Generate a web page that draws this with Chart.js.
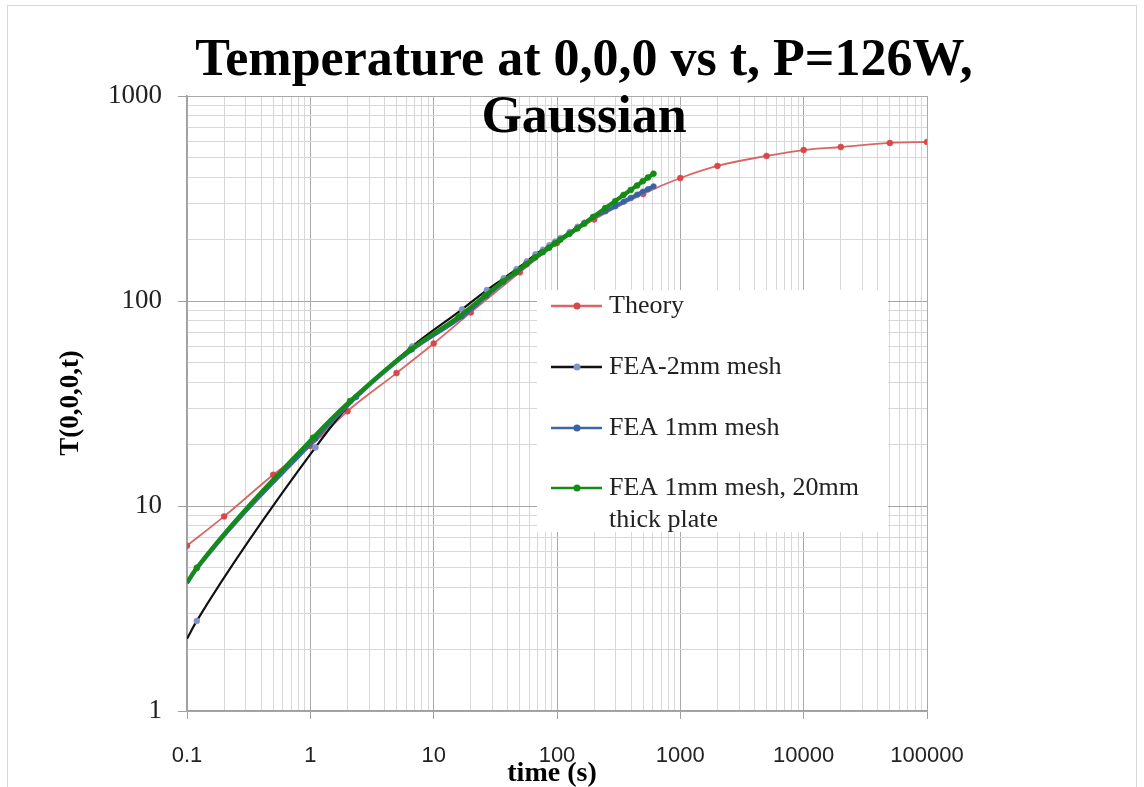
<!DOCTYPE html>
<html>
<head>
<meta charset="utf-8">
<script src="https://cdn.jsdelivr.net/npm/chart.js@4/dist/chart.umd.min.js"></script>
<style>
  body { margin: 0; background: #fff; }
  canvas { display: block; }
</style>
</head>
<body>
<canvas id="tempCanvas" width="1144" height="787"></canvas>
<script>
// values (log-log)
const timeTheory = [0.1, 0.2, 0.5, 1, 2, 5, 10, 20, 50, 100, 200, 500, 1000, 2000, 5000, 10000, 20000, 50000, 100000];
const tempTheory = [6.4, 8.9, 14.2, 19.6, 29, 44.5, 62, 88, 138, 192, 250, 333, 398, 456, 510, 545, 564, 590, 597];

const timeFea = [0.1, 0.12, 1.1, 2.35, 6.7, 17, 27, 37, 47, 57, 67, 77, 87, 97, 107, 127, 147, 167, 197, 247, 297, 347, 397, 447, 497, 547, 607];
const tempFea2mm = [2.25, 2.75, 19.3, 34, 60, 91, 113, 129, 143, 156, 169, 178, 187, 195, 203, 217, 230, 241, 256, 274, 290, 305, 318, 330, 341, 351, 362];
const tempFea1mm = [4.2, 4.95, 21.3, 34, 58, 84, 106, 124, 138, 151, 163, 173, 182, 191, 199, 213, 227, 240, 256, 274, 290, 305, 318, 330, 341, 351, 362];

const timeThick = [0.1, 0.12, 1.05, 2.1, 6.5, 16, 26, 36, 46, 56, 66, 76, 86, 96, 106, 126, 146, 166, 196, 246, 296, 346, 396, 446, 496, 546, 606];
const tempThick = [4.25, 5.0, 21.5, 32.5, 58, 84, 106, 124, 138, 151, 163, 173, 182, 191, 199, 213, 226, 238, 257, 284, 307, 329, 348, 366, 384, 400, 418];

const seriesNames = ["Theory", "FEA-2mm mesh", "FEA 1mm mesh", "FEA 1mm mesh, 20mm thick plate"];

const toPoints = (xs, ys) => xs.map((x, i) => ({ x: x, y: ys[i] }));

const isMajor = (v) => {
  const l = Math.log10(v);
  return Math.abs(l - Math.round(l)) < 1e-6;
};

// 1..9 per decade, like the spreadsheet's minor grid
const decadeTicks = (scale) => {
  const out = [];
  const e0 = Math.round(Math.log10(scale.min));
  const e1 = Math.round(Math.log10(scale.max));
  for (let e = e0; e <= e1; e++) {
    for (let s = 1; s < 10; s++) {
      const v = +(s * Math.pow(10, e)).toPrecision(6);
      if (v >= scale.min && v <= scale.max) out.push({ value: v });
    }
  }
  scale.ticks = out;
};

// first FEA point sits on the axis with no marker
const skipFirst = (r) => (ctx) => (ctx.dataIndex === 0 ? 0 : r);

const serif = "'Liberation Serif', 'DejaVu Serif', serif";

const legendItems = [
  { label: ["Theory"], line: "#d96666", dot: "#d94848", y: 306 },
  { label: ["FEA-2mm mesh"], line: "#111111", dot: "#8094c8", y: 367 },
  { label: ["FEA 1mm mesh"], line: "#3c67a6", dot: "#3a62a0", y: 428 },
  { label: ["FEA 1mm mesh, 20mm", "thick plate"], line: "#148c14", dot: "#148c14", y: 488 },
];

const decorPlugin = {
  id: "decor",
  afterDraw(chart) {
    const ctx = chart.ctx;
    ctx.save();

    // outer frame
    ctx.strokeStyle = "#d6d6d6";
    ctx.lineWidth = 1;
    ctx.strokeRect(7.5, 5.5, 1129, 800);

    // title
    ctx.fillStyle = "#000";
    ctx.textAlign = "center";
    ctx.textBaseline = "alphabetic";
    ctx.font = "bold 52px " + serif;
    ctx.fillText("Temperature at 0,0,0 vs t, P=126W,", 584, 75);
    ctx.fillText("Gaussian", 584, 132);

    // axis titles
    ctx.font = "bold 28px " + serif;
    ctx.fillText("time (s)", 552, 781);
    ctx.save();
    ctx.translate(78, 403);
    ctx.rotate(-Math.PI / 2);
    ctx.font = "bold 27px " + serif;
    ctx.fillText("T(0,0,0,t)", 0, 0);
    ctx.restore();

    // legend box
    ctx.fillStyle = "#fff";
    ctx.fillRect(537, 290, 351, 242);
    ctx.font = "26px " + serif;
    ctx.textAlign = "left";
    ctx.textBaseline = "middle";
    legendItems.forEach((it) => {
      ctx.strokeStyle = it.line;
      ctx.lineWidth = 2.5;
      ctx.beginPath();
      ctx.moveTo(551, it.y);
      ctx.lineTo(602, it.y);
      ctx.stroke();
      ctx.fillStyle = it.dot;
      ctx.beginPath();
      ctx.arc(577, it.y, 3.5, 0, Math.PI * 2);
      ctx.fill();
      ctx.fillStyle = "#222";
      it.label.forEach((t, k) => ctx.fillText(t, 609, it.y + k * 32));
    });

    ctx.restore();
  },
};

const gridColor = (c) => (c.tick && isMajor(c.tick.value) ? "#a9a9a9" : "#d8d8d8");
const tickMarkColor = (c) => (c.tick && isMajor(c.tick.value) ? "#a0a0a0" : "rgba(0,0,0,0)");

const tempChart = new Chart(document.getElementById("tempCanvas"), {
  type: "line",
  data: {
    datasets: [
      {
        label: seriesNames[3],
        data: toPoints(timeThick, tempThick),
        borderColor: "#148c14",
        backgroundColor: "#148c14",
        pointBackgroundColor: "#148c14",
        pointBorderColor: "#148c14",
        borderWidth: 4,
        pointRadius: skipFirst(3),
        pointBorderWidth: 0.5,
        cubicInterpolationMode: "monotone",
        order: 0,
      },
      {
        label: seriesNames[2],
        data: toPoints(timeFea, tempFea1mm),
        borderColor: "#3c67a6",
        backgroundColor: "#3a62a0",
        pointBackgroundColor: "#3a62a0",
        pointBorderColor: "#3a62a0",
        borderWidth: 4,
        pointRadius: skipFirst(2.5),
        pointBorderWidth: 0.5,
        cubicInterpolationMode: "monotone",
        order: 1,
      },
      {
        label: seriesNames[1],
        data: toPoints(timeFea, tempFea2mm),
        borderColor: "#111111",
        backgroundColor: "#8094c8",
        pointBackgroundColor: "#8094c8",
        pointBorderColor: "#8094c8",
        borderWidth: 2.2,
        pointRadius: skipFirst(3),
        pointBorderWidth: 0.5,
        cubicInterpolationMode: "monotone",
        order: 2,
      },
      {
        label: seriesNames[0],
        data: toPoints(timeTheory, tempTheory),
        borderColor: "#d96666",
        backgroundColor: "#d94848",
        pointBackgroundColor: "#d94848",
        pointBorderColor: "#d94848",
        borderWidth: 1.8,
        pointRadius: 3,
        pointBorderWidth: 0.5,
        cubicInterpolationMode: "monotone",
        order: 3,
      },
    ],
  },
  options: {
    responsive: false,
    animation: false,
    devicePixelRatio: 1,
    layout: { padding: { top: 96, right: 217, bottom: 0, left: 0 } },
    plugins: {
      legend: { display: false },
      title: { display: false },
      tooltip: { enabled: false },
    },
    scales: {
      x: {
        type: "logarithmic",
        position: "bottom",
        min: 0.1,
        max: 100000,
        afterBuildTicks: decadeTicks,
        grid: { color: gridColor, tickColor: tickMarkColor, tickLength: 8, lineWidth: 1 },
        border: { color: "#a0a0a0", width: 1.5 },
        ticks: {
          autoSkip: false,
          maxRotation: 0,
          padding: 24,
          color: "#222",
          font: { family: "'Liberation Sans', Arial, sans-serif", size: 22 },
          callback: (v) => (isMajor(v) ? String(v) : ""),
        },
        afterFit: (scale) => { scale.height = 76; },
      },
      y: {
        type: "logarithmic",
        min: 1,
        max: 1000,
        afterBuildTicks: decadeTicks,
        grid: { color: gridColor, tickColor: tickMarkColor, tickLength: 9, lineWidth: 1 },
        border: { color: "#a0a0a0", width: 1.5 },
        ticks: {
          autoSkip: false,
          padding: 16,
          color: "#222",
          font: { family: serif, size: 27 },
          callback: (v) => (isMajor(v) ? String(v) : ""),
        },
        afterFit: (scale) => { scale.width = 187; },
      },
    },
  },
  plugins: [decorPlugin],
});
</script>
</body>
</html>
